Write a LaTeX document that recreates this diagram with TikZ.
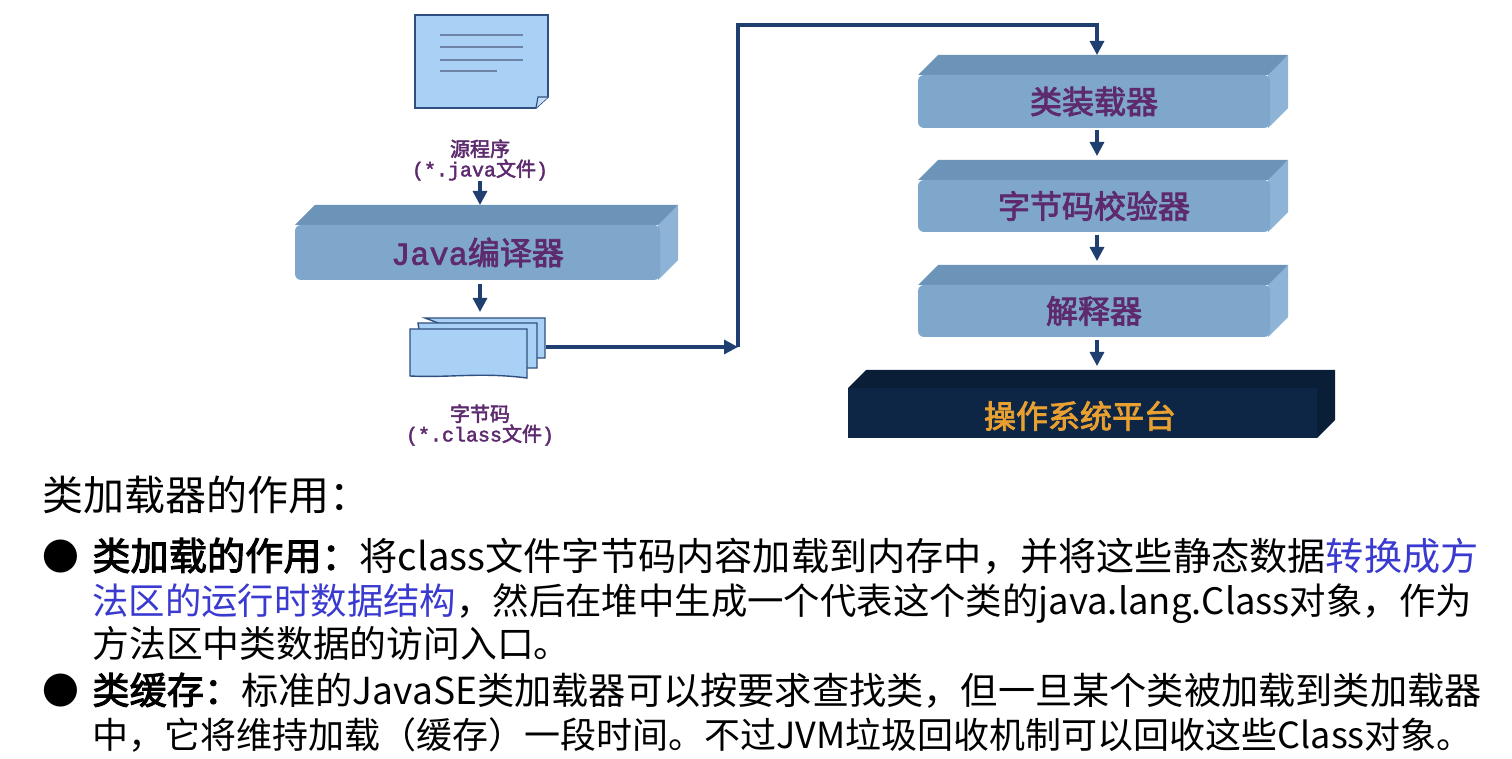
\documentclass[tikz,border=0pt]{standalone}
\usepackage{fontspec}
\setmainfont{Noto Sans CJK SC}
\newfontfamily\cjk[AutoFakeBold=2.5]{Noto Sans CJK SC}
\newfontfamily\mono[AutoFakeBold=2]{Liberation Mono}
\usetikzlibrary{arrows.meta}
\definecolor{front}{HTML}{7FA7CC}
\definecolor{topf}{HTML}{6C93B8}
\definecolor{sidef}{HTML}{8DB3D6}
\definecolor{lab}{HTML}{5E2A6E}
\definecolor{paper}{HTML}{A9D0F5}
\definecolor{edge}{HTML}{2F4F80}
\definecolor{arr}{HTML}{1F3F70}
\definecolor{navy}{HTML}{0E2645}
\definecolor{osor}{HTML}{E8A030}
\definecolor{bl}{HTML}{3A3AD0}
\tikzset{
  flow/.style={-{Triangle[length=7,width=7]},line width=1.6pt,arr},
  lbl/.style={font=\cjk\bfseries\fontsize{10}{12}\selectfont,text=lab,align=center},
  boxtxt/.style={font=\cjk\bfseries\fontsize{16}{18}\selectfont,text=lab},
  body/.style={anchor=base west,inner sep=0,font=\fontsize{18.4}{20}\selectfont}
}
\newcommand{\slab}[6]{% x1 y1 x2 y2 fill name
  \fill[topf] (#1,#2+20) -- (#1+20,#2) -- (#3+18,#2) -- (#3,#2+20) -- cycle;
  \fill[sidef] (#3-2,#2+20) -- (#3+18,#2) -- (#3+18,#4-20) -- (#3-2,#4) -- cycle;
  \fill[rounded corners=3,#5] (#1,#2+20) rectangle (#3,#4);
  \coordinate (#6) at ({(#1+#3)/2},{(#2+20+#4)/2});
}
\begin{document}
\begin{tikzpicture}[x=0.5pt,y=-0.5pt]
\useasboundingbox[fill=white] (0,0) rectangle (1512,759);
% source document
\draw[edge,fill=paper,line width=0.8pt] (415,15) -- (548,15) -- (548,97) -- (536,108) -- (415,108) -- cycle;
\draw[edge,fill=paper!70!white,line width=0.6pt] (548,97) -- (538,97) -- (536,108);
\foreach \y/\e in {35/523,47/523,60/523,71/497}{\draw[edge!70!white,line width=0.8pt] (440,\y) -- (\e,\y);}
\node[draw=none,inner sep=0] (src) at (480,62) {};
\node[lbl] (srcl) at (480,160) {源程序\\[-2pt]{\mono\bfseries (*.java}文件{\mono\bfseries )}};
% compiler
\slab{295}{205}{660}{280}{front}{jc}
\node[boxtxt] at (jc) {{\mono\bfseries\fontsize{16}{18}\selectfont Java}编译器};
\coordinate (jctop) at (480,205);
\coordinate (jcbot) at (480,284);
% bytecode stack
\draw[edge,fill=paper,line width=0.7pt] (425,318) -- (545,318) -- (545,358) -- (530,358) -- cycle;
\draw[edge,fill=paper,line width=0.7pt] (418,323) -- (537,323) -- (537,368) -- (425,368) -- cycle;
\draw[edge,fill=paper,line width=0.7pt] (410,329) -- (527,329) -- (527,378) .. controls (480,372) and (450,378) .. (410,376) -- cycle;
\node[inner sep=0] (bc) at (545,347) {};
\node[lbl] (bcl) at (480,425) {字节码\\[-2pt]{\mono\bfseries (*.class}文件{\mono\bfseries )}};
\draw[flow] (480,181) -- (jctop);
\draw[flow] (jcbot) -- (480,312);
\coordinate (turn) at (738,347);
\coordinate (c1) at (738,25);
\coordinate (c2) at (1097,25);
\draw[flow] (bc) -- (turn);
% right stack
\slab{918}{55}{1270}{128}{front}{cl}
\slab{918}{160}{1270}{232}{front}{bv}
\slab{918}{265}{1270}{337}{front}{in}
\draw[flow] (turn) -- (c1) -- (c2) -- (1097,55);
\node[boxtxt] at (cl) {类装载器};
\node[boxtxt] at (bv) {字节码校验器};
\node[boxtxt] at (in) {解释器};
\draw[flow] (1097,130) -- (1097,156);
\draw[flow] (1097,235) -- (1097,261);
\draw[flow] (1097,340) -- (1097,366);
\fill[navy!80!black] (848,388) -- (866,370) -- (1335,370) -- (1335,420) -- (1317,438) -- cycle;
\fill[navy] (848,388) rectangle (1317,438);
\node[font=\cjk\bfseries\fontsize{16}{18}\selectfont,text=osor] (os) at (1080,416) {操作系统平台};
% text
\node[body,font=\fontsize{20.5}{22}\selectfont] (h) at (42,510) {类加载器的作用：};
\node[body] (b1) at (42,570) {●};
\node[body,font=\fontsize{19.1}{20}\selectfont] (l1) at (92,570) {{\cjk\bfseries 类加载的作用：}将class文件字节码内容加载到内存中，并将这些静态数据\textcolor{bl}{转换成方}};
\node[body,font=\fontsize{18.2}{20}\selectfont] (l2) at (92,614) {\textcolor{bl}{法区的运行时数据结构}，然后在堆中生成一个代表这个类的java.lang.Class对象，作为};
\node[body] (l3) at (92,657) {方法区中类数据的访问入口。};
\node[body] (b2) at (42,704) {●};
\node[body,font=\fontsize{18.6}{20}\selectfont] (l4) at (92,704) {{\cjk\bfseries 类缓存：}标准的JavaSE类加载器可以按要求查找类，但一旦某个类被加载到类加载器};
\node[body,font=\fontsize{18.0}{20}\selectfont] (l5) at (92,748) {中，它将维持加载（缓存）一段时间。不过JVM垃圾回收机制可以回收这些Class对象。};
\end{tikzpicture}
\end{document}
